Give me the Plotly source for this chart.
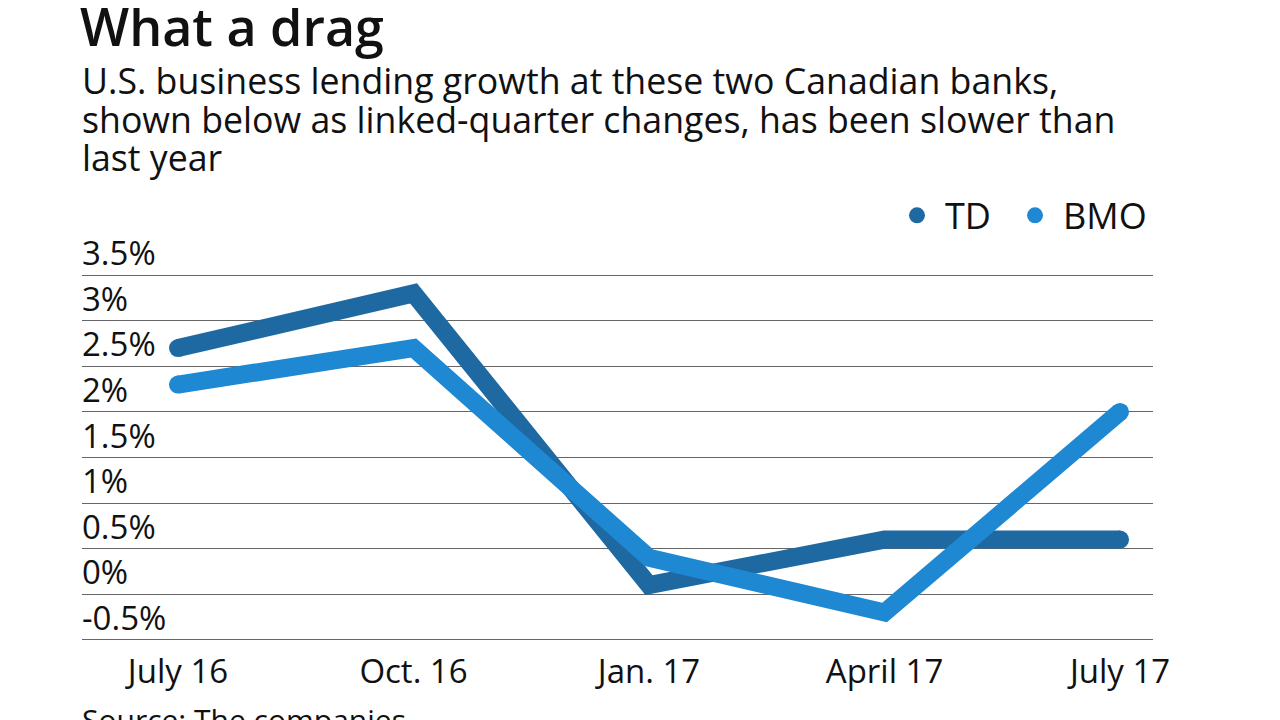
import plotly.graph_objects as go

quarters = ["July 16", "Oct. 16", "Jan. 17", "April 17", "July 17"]
td = [2.7, 3.3, 0.1, 0.6, 0.6]
bmo = [2.3, 2.7, 0.4, -0.2, 2.0]
ytick_vals = [-0.5, 0, 0.5, 1, 1.5, 2, 2.5, 3, 3.5]
ytick_text = ["-0.5%", "0%", "0.5%", "1%", "1.5%", "2%", "2.5%", "3%", "3.5%"]
title = "What a drag"
subtitle_lines = ["U.S. business lending growth at these two Canadian banks,",
                  "shown below as linked-quarter changes, has been slower than",
                  "last year"]
source = "Source: The companies"

TD_COLOR = "#1f69a3"
BMO_COLOR = "#1e88d3"
FONT = "Open Sans"
TXT = "#111"

x_idx = list(range(len(quarters)))
ends = [0, len(quarters) - 1]

fig = go.Figure()
for vals, col in ((td, TD_COLOR), (bmo, BMO_COLOR)):
    fig.add_trace(go.Scatter(x=x_idx, y=vals, mode="lines", line=dict(color=col, width=18),
                             showlegend=False, hoverinfo="skip"))
    fig.add_trace(go.Scatter(x=[x_idx[i] for i in ends], y=[vals[i] for i in ends], mode="markers",
                             marker=dict(size=18, color=col, opacity=1, line=dict(width=0)),
                             showlegend=False, hoverinfo="skip"))
fig.add_trace(go.Scatter(x=[None], y=[None], mode="markers", name="TD", legend="legend",
                         marker=dict(size=17, color=TD_COLOR)))
fig.add_trace(go.Scatter(x=[None], y=[None], mode="markers", name="BMO", legend="legend2",
                         marker=dict(size=17, color=BMO_COLOR)))

for v, t in zip(ytick_vals, ytick_text):
    fig.add_annotation(x=0, xref="paper", y=v, yref="y", text=t, showarrow=False,
                       xanchor="left", yanchor="bottom", yshift=-2, xshift=-2,
                       font=dict(family=FONT, size=33, color=TXT))

PLOT_TOP = 258  # px from figure top to plot area top
fig.add_annotation(x=0, xref="paper", y=1, yref="paper", yshift=PLOT_TOP + 20, text=title,
                   showarrow=False, xanchor="left", yanchor="top", xshift=-4,
                   font=dict(family=FONT, size=52, color=TXT, weight=600))
for k, line in enumerate(subtitle_lines):
    fig.add_annotation(x=0, xref="paper", y=1, yref="paper", yshift=PLOT_TOP - 72 - 38.5 * k, text=line,
                       showarrow=False, xanchor="left", yanchor="middle", xshift=-2,
                       font=dict(family=FONT, size=35.7, color=TXT))
fig.add_annotation(x=0, xref="paper", y=0, yref="paper", yshift=-48, text=source,
                   showarrow=False, xanchor="left", yanchor="top", xshift=-2,
                   font=dict(family=FONT, size=30, color=TXT))

leg_common = dict(orientation="h", yanchor="middle", y=1.132, xanchor="left",
                  font=dict(family=FONT, size=36, color=TXT), bgcolor="rgba(0,0,0,0)",
                  itemwidth=46)
fig.update_layout(
    width=1280, height=720,
    margin=dict(l=74, r=135, t=PLOT_TOP, b=79),
    paper_bgcolor="white", plot_bgcolor="white",
    font=dict(family=FONT, size=30, color=TXT),
    xaxis=dict(range=[-0.4076, 4.140], tickmode="array", tickvals=x_idx, ticktext=quarters,
               showgrid=False, zeroline=False, showline=False, ticks="",
               tickfont=dict(size=33, family=FONT, color=TXT), fixedrange=True),
    yaxis=dict(range=[-0.6, 3.6], tickmode="array", tickvals=ytick_vals, showticklabels=False,
               showgrid=True, gridcolor="#666", gridwidth=1, zeroline=False, showline=False,
               fixedrange=True),
    legend=dict(x=0.7535, **leg_common),
    legend2=dict(x=0.8637, **leg_common),
)

fig.write_html("out.html")
